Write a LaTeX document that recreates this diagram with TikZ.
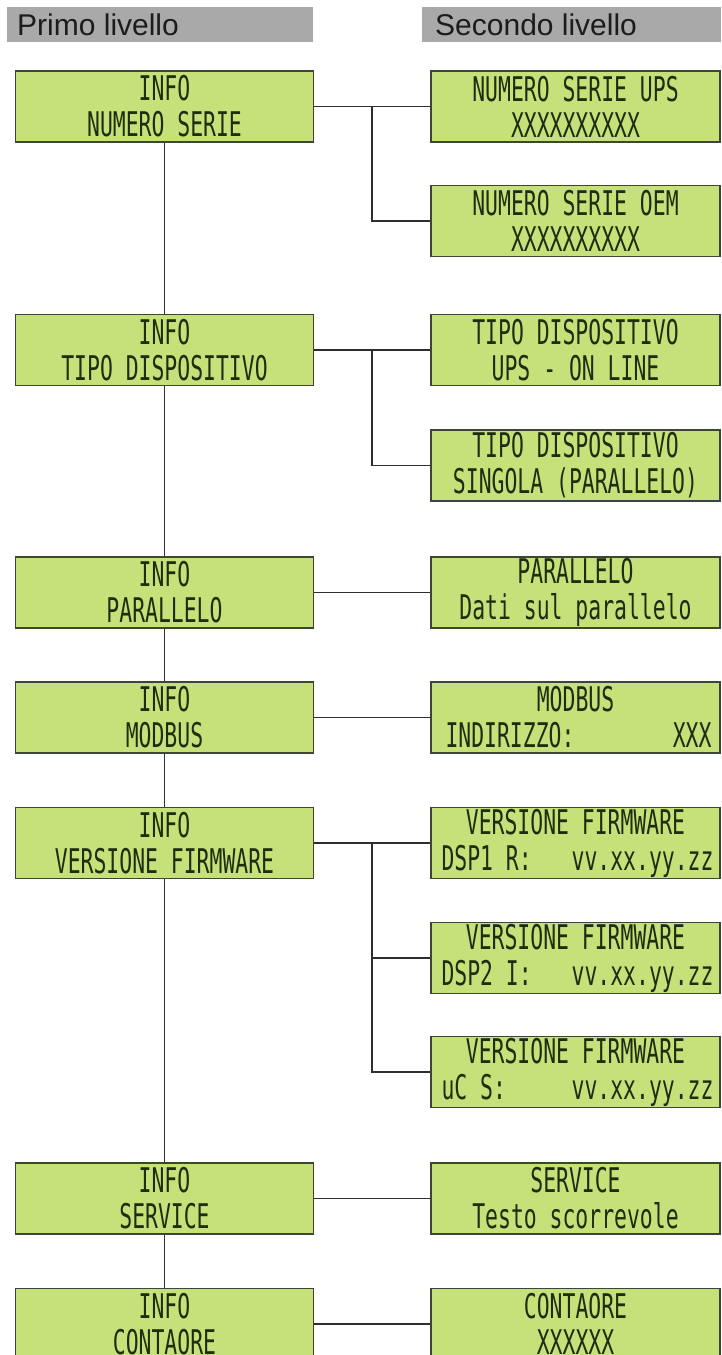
\documentclass[tikz,border=0pt]{standalone}
\usepackage{fontspec}
\usepackage{graphicx}
\setmainfont{Liberation Sans}
\newfontfamily\lcdfont{DejaVu Sans Mono}
\newcommand{\lcd}[1]{\scalebox{0.63}[1]{\lcdfont\fontsize{34}{36}\selectfont #1}}
\newcommand{\lcdsplit}[3]{\makebox[#1]{\lcd{#2}\hfill\lcd{#3}}}
\definecolor{lcdfill}{HTML}{C6E07A}
\definecolor{lcdtext}{HTML}{1F2D0E}
\definecolor{lcdborder}{HTML}{3D4535}
\definecolor{hdrgray}{HTML}{A9A9A9}
\definecolor{hdrtext}{HTML}{1C1C1C}
\definecolor{wire}{HTML}{2E2E2E}
\begin{document}
\begin{tikzpicture}[x=1pt,y=-1pt,
  hdrbar/.style={fill=hdrgray,draw=none},
  hdrlabel/.style={anchor=base west,inner sep=0pt,text=hdrtext,font=\fontsize{30}{32}\selectfont},
  lcdbox/.style={draw=lcdborder,fill=lcdfill,line width=1.6pt,minimum height=71pt,
    inner sep=0pt,align=center,text=lcdtext,font=\fontsize{34}{36}\selectfont},
  leftbox/.style={lcdbox,minimum width=298pt},
  rightbox/.style={lcdbox,minimum width=289pt},
  conn/.style={draw=wire,line width=1.8pt}]
\useasboundingbox (0,0) rectangle (721,1355);
\fill[white] (0,0) rectangle (721,1355);
% headers
\node[hdrbar,minimum width=306pt,minimum height=35pt,inner sep=0pt] (h1) at (160,24.5) {};
\node[hdrbar,minimum width=299pt,minimum height=35pt,inner sep=0pt] (h2) at (571.5,24.5) {};
\node[hdrlabel] (h1t) at (17,35.5) {Primo livello};
\node[hdrlabel] (h2t) at (435,35.5) {Secondo livello};
% left column
\node[leftbox] (L1) at (164.5,106.5) {\lcd{INFO}\\\lcd{NUMERO SERIE}};
\node[leftbox] (L2) at (164.5,350) {\lcd{INFO}\\\lcd{TIPO DISPOSITIVO}};
\node[leftbox] (L3) at (164.5,592.5) {\lcd{INFO}\\\lcd{PARALLELO}};
\node[leftbox] (L4) at (164.5,717.5) {\lcd{INFO}\\\lcd{MODBUS}};
\node[leftbox] (L5) at (164.5,843) {\lcd{INFO}\\\lcd{VERSIONE FIRMWARE}};
\node[leftbox] (L6) at (164.5,1198.5) {\lcd{INFO}\\\lcd{SERVICE}};
\node[leftbox] (L7) at (164.5,1324) {\lcd{INFO}\\\lcd{CONTAORE}};
% right column
\node[rightbox] (R1) at (575.5,106.5) {\lcd{NUMERO SERIE UPS}\\\lcd{XXXXXXXXXX}};
\node[rightbox] (R2) at (575.5,221) {\lcd{NUMERO SERIE OEM}\\\lcd{XXXXXXXXXX}};
\node[rightbox] (R3) at (575.5,350) {\lcd{TIPO DISPOSITIVO}\\\lcd{UPS - ON LINE}};
\node[rightbox] (R4) at (575.5,465.5) {\lcd{TIPO DISPOSITIVO}\\\lcd{SINGOLA (PARALLELO)}};
\node[rightbox] (R5) at (575.5,592.5) {\lcd{PARALLELO}\\\lcd{Dati sul parallelo}};
\node[rightbox] (R6) at (575.5,717.5) {\lcd{MODBUS}\\\hspace*{6pt}\lcdsplit{266pt}{INDIRIZZO:}{XXX}};
\node[rightbox] (R7) at (575.5,843) {\lcd{VERSIONE FIRMWARE}\\\hspace*{4pt}\lcdsplit{272pt}{DSP1 R:}{vv.xx.yy.zz}};
\node[rightbox] (R8) at (575.5,958) {\lcd{VERSIONE FIRMWARE}\\\hspace*{4pt}\lcdsplit{272pt}{DSP2 I:}{vv.xx.yy.zz}};
\node[rightbox] (R9) at (575.5,1072) {\lcd{VERSIONE FIRMWARE}\\\hspace*{4pt}\lcdsplit{272pt}{uC S:}{vv.xx.yy.zz}};
\node[rightbox] (R10) at (575.5,1198.5) {\lcd{SERVICE}\\\lcd{Testo scorrevole}};
\node[rightbox] (R11) at (575.5,1324) {\lcd{CONTAORE}\\\lcd{XXXXXX}};
% branch points
\coordinate (b1) at (372,106.5);
\coordinate (b2) at (372,350);
\coordinate (b5) at (372,843);
% vertical spine
\draw[conn] (L1) -- (L2);
\draw[conn] (L2) -- (L3);
\draw[conn] (L3) -- (L4);
\draw[conn] (L4) -- (L5);
\draw[conn] (L5) -- (L6);
\draw[conn] (L6) -- (L7);
% horizontal links
\draw[conn] (L1.east) -- (R1.west);
\draw[conn] (b1) |- (R2.west);
\draw[conn] (L2.east) -- (R3.west);
\draw[conn] (b2) |- (R4.west);
\draw[conn] (L3.east) -- (R5.west);
\draw[conn] (L4.east) -- (R6.west);
\draw[conn] (L5.east) -- (R7.west);
\draw[conn] (b5) |- (R8.west);
\draw[conn] (b5) |- (R9.west);
\draw[conn] (L6.east) -- (R10.west);
\draw[conn] (L7.east) -- (R11.west);
\end{tikzpicture}
\end{document}
